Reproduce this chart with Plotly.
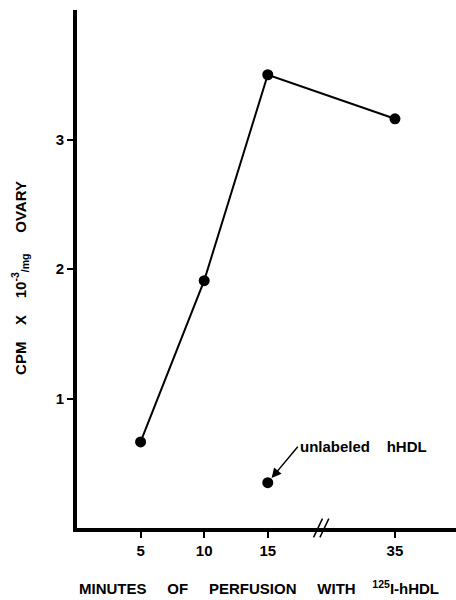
import plotly.graph_objects as go

# Data
minutes_labels = ["5", "10", "15", "35"]
axis_pos = [5, 10, 15, 25]          # 35 min placed after axis break
cpm_values = [0.665, 1.91, 3.50, 3.16]
unlabeled_pos = [15]
unlabeled_values = [0.35]
y_ticks = [1, 2, 3]

FONT = "Liberation Sans, Arial, Helvetica, sans-serif"

fig = go.Figure()
fig.add_trace(go.Scatter(
    x=axis_pos, y=cpm_values, mode="lines+markers",
    line=dict(color="black", width=2),
    marker=dict(color="black", size=11),
    showlegend=False, cliponaxis=False,
))
fig.add_trace(go.Scatter(
    x=unlabeled_pos, y=unlabeled_values, mode="markers",
    marker=dict(color="black", size=11),
    showlegend=False, cliponaxis=False,
))

fig.update_layout(
    width=456, height=600,
    margin=dict(l=77, r=0, t=10, b=72),
    paper_bgcolor="white", plot_bgcolor="white",
    font=dict(family=FONT, color="black"),
    xaxis=dict(
        range=[0, 29.8], showgrid=False, zeroline=False,
        showline=True, linecolor="black", linewidth=4,
        tickmode="array", tickvals=axis_pos, ticktext=minutes_labels,
        ticks="outside", ticklen=6, tickwidth=2, tickcolor="black",
        tickfont=dict(size=15, family=FONT, weight="bold"),
    ),
    yaxis=dict(
        range=[0, 4.0], showgrid=False, zeroline=False,
        showline=True, linecolor="black", linewidth=4,
        tickmode="array", tickvals=y_ticks, ticktext=[str(t) for t in y_ticks],
        ticks="outside", ticklen=6, tickwidth=1.5, tickcolor="black",
        tickfont=dict(size=15, family=FONT, weight="bold"),
    ),
)

# Axis titles
fig.add_annotation(
    xref="paper", yref="paper", x=0.0, y=-0.114, yanchor="middle", xanchor="left",
    text="MINUTES     OF     PERFUSION     WITH    <sup>125</sup>I-hHDL",
    showarrow=False, font=dict(size=15, family=FONT, weight="bold"),
)
fig.add_annotation(
    xref="paper", yref="paper", x=-0.15, y=0.483, xanchor="center", yanchor="middle",
    text="CPM    X    10<sup>-3</sup><sub>/mg</sub>     OVARY", textangle=-90,
    showarrow=False, font=dict(size=15, family=FONT, weight="bold"),
)

# Unlabeled hHDL annotation with arrow
fig.add_annotation(
    x=unlabeled_pos[0], y=unlabeled_values[0], xref="x", yref="y",
    text="unlabeled    hHDL", showarrow=True,
    arrowhead=2, arrowsize=1.3, arrowwidth=1.5, arrowcolor="black",
    ax=30, ay=-36, xanchor="left", yanchor="middle",
    standoff=6,
    font=dict(size=15, family=FONT, weight="bold"),
)

# Axis break marks
for dx in [-0.25, 0.25]:
    fig.add_shape(
        type="line", xref="x", yref="paper",
        x0=19.2 + dx - 0.35, x1=19.2 + dx + 0.35, y0=-0.018, y1=0.018,
        line=dict(color="black", width=1.5),
    )

fig.write_html("out.html", config={"displayModeBar": False},
               post_script="document.body.style.margin='0px';document.body.style.padding='0px';")
